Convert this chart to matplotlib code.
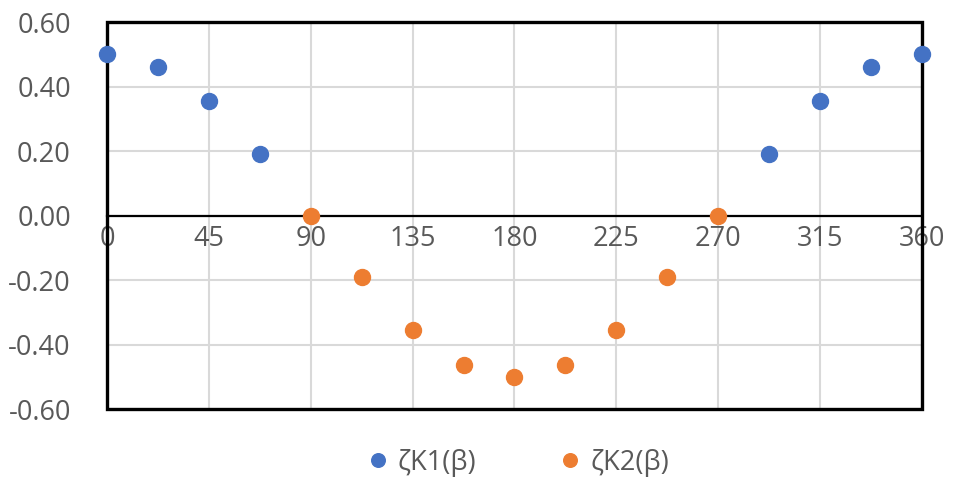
import matplotlib.pyplot as plt
from matplotlib.patches import Rectangle

plt.rcParams['font.family'] = ['Open Sans', 'DejaVu Sans']

# series values
beta1 = [0, 22.5, 45, 67.5, 292.5, 315, 337.5, 360]
k1 = [0.5, 0.462, 0.354, 0.191, 0.191, 0.354, 0.462, 0.5]
beta2 = [90, 112.5, 135, 157.5, 180, 202.5, 225, 247.5, 270]
k2 = [0.0, -0.191, -0.354, -0.462, -0.5, -0.462, -0.354, -0.191, 0.0]
xticks = [0, 45, 90, 135, 180, 225, 270, 315, 360]
yticks = [-0.6, -0.4, -0.2, 0.0, 0.2, 0.4, 0.6]

fig = plt.figure(figsize=(9.55, 4.79), dpi=100)
ax = fig.add_axes([0.112, 0.146, 0.8534, 0.808])

ax.plot(beta1, k1, 'o', color='#4472c4', ms=11.5, label='ζK1(β)', clip_on=False, zorder=5)
ax.plot(beta2, k2, 'o', color='#ed7d31', ms=11.5, label='ζK2(β)', clip_on=False, zorder=5)

ax.set_xlim(0, 360)
ax.set_ylim(-0.6, 0.6)
ax.set_xticks(xticks)
ax.set_yticks(yticks)
ax.set_yticklabels(['%.2f' % v for v in yticks])
ax.grid(True, color='#d9d9d9', lw=1.5)
ax.set_axisbelow(True)

for s in ['top', 'right', 'left']:
    ax.spines[s].set_visible(False)
ax.spines['bottom'].set_position(('data', 0))
ax.spines['bottom'].set_linewidth(1.6)
ax.spines['bottom'].set_zorder(3)

ax.add_patch(Rectangle((0, 0), 1, 1, transform=ax.transAxes, fill=False,
                       ec='black', lw=2.4, zorder=4, clip_on=False))

ax.tick_params(length=0, labelsize=19.5, labelcolor='#595959')
ax.tick_params(axis='x', pad=7)
ax.tick_params(axis='y', pad=26)

ax.legend(loc='upper center', bbox_to_anchor=(0.5, -0.04), ncol=2, frameon=False,
          fontsize=19.5, labelcolor='#595959', handletextpad=0.1, handlelength=1.3,
          columnspacing=2.8, markerscale=0.85)

fig.savefig('out.png', dpi=100)
